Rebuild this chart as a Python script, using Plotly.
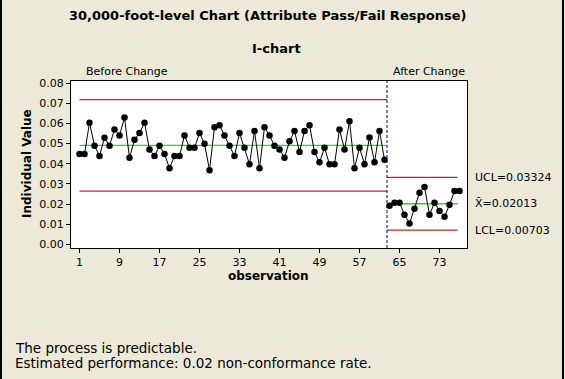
import plotly.graph_objects as go

# ---------------- data ----------------
before_values = [
    0.0448, 0.0448, 0.0603, 0.0489, 0.0438, 0.0529, 0.0489, 0.0570, 0.0540, 0.0629,
    0.0429, 0.0519, 0.0552, 0.0603, 0.0470, 0.0438, 0.0489, 0.0448, 0.0378, 0.0438,
    0.0438, 0.0540, 0.0479, 0.0479, 0.0552, 0.0499, 0.0368, 0.0581, 0.0591, 0.0540,
    0.0489, 0.0438, 0.0552, 0.0479, 0.0397, 0.0562, 0.0378, 0.0581, 0.0540, 0.0489,
    0.0470, 0.0429, 0.0511, 0.0562, 0.0458, 0.0562, 0.0591, 0.0458, 0.0407, 0.0479,
    0.0397, 0.0397, 0.0570, 0.0470, 0.0611, 0.0378, 0.0479, 0.0397, 0.0530, 0.0407,
    0.0562, 0.0419,
]
after_values = [
    0.0191, 0.0206, 0.0206, 0.0147, 0.0104, 0.0176, 0.0256, 0.0285, 0.0147, 0.0206,
    0.0166, 0.0137, 0.0196, 0.0265, 0.0265,
]
before_limits = {"UCL": 0.0718, "MEAN": 0.0491, "LCL": 0.0264}
after_limits = {"UCL": 0.03324, "MEAN": 0.02013, "LCL": 0.00703}
change_at = 62.5
x_tickvals = [1, 9, 17, 25, 33, 41, 49, 57, 65, 73]
y_tickvals = [0.00, 0.01, 0.02, 0.03, 0.04, 0.05, 0.06, 0.07, 0.08]

title_text = "30,000-foot-level Chart (Attribute Pass/Fail Response)"
subtitle_text = "I-chart"
note_lines = ["The process is predictable.",
              "Estimated performance: 0.02 non-conformance rate."]

# ---------------- layout constants ----------------
W, H = 565, 379
ML, MR, MT, MB = 71, 98, 81, 131
PW, PH = W - ML - MR, H - MT - MB
BG = "#ECE9D8"
RED = "#D0202A"
GREEN = "#33CC33"
FONT = "DejaVu Sans"

def px2paper_x(px):
    return (px - ML) / PW

def py2paper_y(py):
    return (H - MB - py) / PH

x_before = list(range(1, len(before_values) + 1))
x_after = list(range(len(before_values) + 1, len(before_values) + len(after_values) + 1))
x_last = x_after[-1]

fig = go.Figure()

# control limit lines
for k, v in before_limits.items():
    fig.add_trace(go.Scatter(x=[1, change_at], y=[v, v], mode="lines",
                             line=dict(color=GREEN if k == "MEAN" else RED, width=1.3),
                             hoverinfo="skip", showlegend=False))
for k, v in after_limits.items():
    fig.add_trace(go.Scatter(x=[change_at, x_last - 0.4], y=[v, v], mode="lines",
                             line=dict(color=GREEN if k == "MEAN" else RED, width=1.3),
                             hoverinfo="skip", showlegend=False))

# data
fig.add_trace(go.Scatter(x=x_before, y=before_values, mode="lines+markers",
                         line=dict(color="black", width=1),
                         marker=dict(color="black", size=6.5), showlegend=False))
fig.add_trace(go.Scatter(x=x_after, y=after_values, mode="lines+markers",
                         line=dict(color="black", width=1),
                         marker=dict(color="black", size=6.5), showlegend=False))

# stage change dashed line
fig.add_shape(type="line", xref="x", yref="paper", x0=change_at, x1=change_at, y0=0, y1=1,
              line=dict(color="#00008B", width=1, dash="3px,2px"))

# window border lines
for bx in (1, 563):
    fig.add_shape(type="line", xref="paper", yref="paper",
                  x0=px2paper_x(bx), x1=px2paper_x(bx), y0=py2paper_y(0), y1=py2paper_y(H),
                  line=dict(color="black", width=2))

def A(text, x, y, size, xanchor="center", xref="paper", yref="paper", **kw):
    return dict(text=text, x=x, y=y, xref=xref, yref=yref, xanchor=xanchor,
                yanchor="middle", showarrow=False,
                font=dict(family=FONT, size=size, color="black"), **kw)

ann = [
    A("<b>" + title_text + "</b>", px2paper_x(267), py2paper_y(16), 13),
    A("<b>" + subtitle_text + "</b>", px2paper_x(276), py2paper_y(48), 13),
    A("Before Change", px2paper_x(84), py2paper_y(72), 11, xanchor="left"),
    A("After Change", change_at, py2paper_y(72), 11, xanchor="left", xref="x", xshift=4),
    A("<b>observation</b>", px2paper_x(268), py2paper_y(276), 12),
    A("<b>Individual Value</b>", px2paper_x(27), py2paper_y(164), 12, textangle=-90),
]
labels = [("UCL=" + f"{after_limits['UCL']:.5f}", after_limits["UCL"]),
          ("X\u0304=" + f"{after_limits['MEAN']:.5f}", after_limits["MEAN"]),
          ("LCL=" + f"{after_limits['LCL']:.5f}", after_limits["LCL"])]
for t, v in labels:
    ann.append(A(t, px2paper_x(473), v, 11, xanchor="left", yref="y"))
for i, line in enumerate(note_lines):
    ann.append(A(line, px2paper_x(13), py2paper_y(348 + 15 * i), 13.5, xanchor="left"))

fig.update_layout(
    width=W, height=H,
    margin=dict(l=ML, r=MR, t=MT, b=MB, pad=0),
    paper_bgcolor=BG, plot_bgcolor="white",
    showlegend=False,
    annotations=ann,
    xaxis=dict(range=[-0.7, 78.5], tickvals=x_tickvals, ticks="outside", ticklen=4,
               tickcolor="black", showgrid=False, zeroline=False, showline=True,
               linecolor="black", linewidth=1, mirror=True,
               tickfont=dict(family=FONT, size=11, color="black")),
    yaxis=dict(range=[-0.0018, 0.081], tickvals=y_tickvals, tickformat=".2f",
               ticks="outside", ticklen=4, tickcolor="black", showgrid=False,
               zeroline=False, showline=True, linecolor="black", linewidth=1, mirror=True,
               tickfont=dict(family=FONT, size=11, color="black")),
)

fig.write_html("out.html", config={"displayModeBar": False},
               post_script="document.body.style.margin='0';")
